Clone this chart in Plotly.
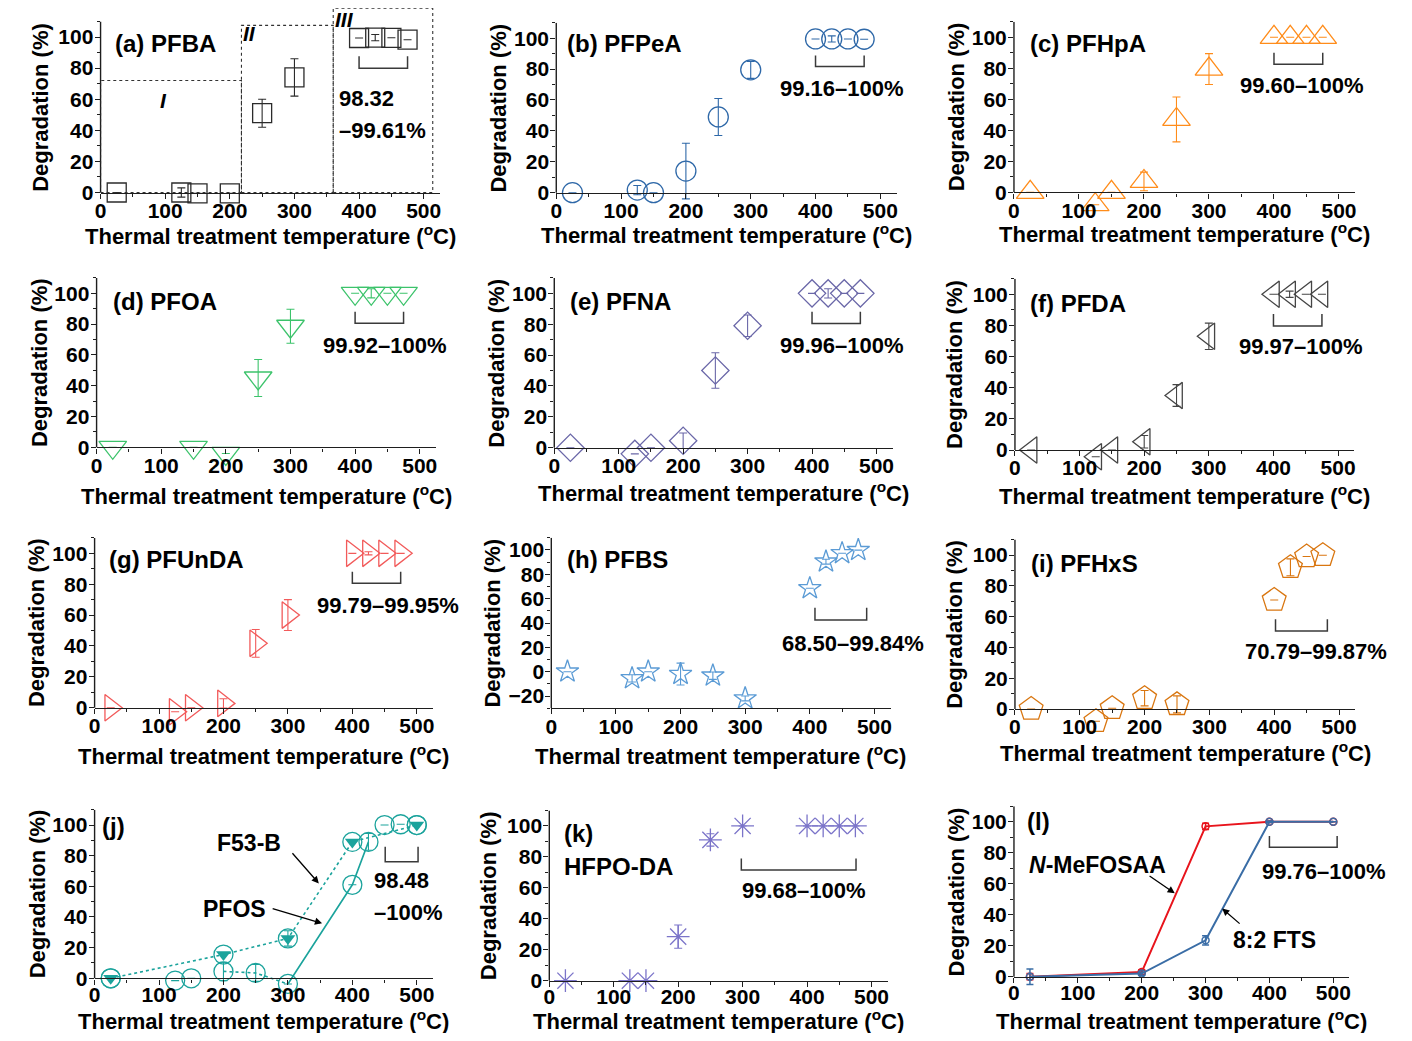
import plotly.graph_objects as go

REF_W, REF_H = 1412, 1041
OFF = 8  # page body margin
FIG_W, FIG_H = REF_W - 2 * OFF, REF_H - 2 * OFF
FONT = "Liberation Sans"
AXC = "#1e1e1e"

# ---------------- data ----------------
temps = [25, 125, 150, 200, 250, 300, 400, 425, 450, 475]

pfba = [0, 0, -0.5, -0.5, 51, 74, 99.4, 99.6, 99.5, 98.3]
pfba_err = [None, 3, None, None, 9, 12, None, 2, None, None]
pfpea = [0, 1.7, 0, 14, 49, 79.5, 99.5, 99.5, 99.5, 99.3]
pfpea_err = [None, 3, None, 18, 12, 5.5, None, 2, None, None]
pfhpa = [0, -8, 0, 7, 47, 79.5, 100, 100, 100, 100]
pfhpa_err = [None, None, None, 6, 14.5, 10, None, None, None, None]
pfoa = [0, None, 0, -4, 45, 78.6, 100, 100, 100, 100]
pfoa_err = [None, None, None, None, 12, 11, None, 3, None, None]
pfna = [0, -4, 0, 4.5, 50, 79, 100, 100, 100, 100]
pfna_err = [None, None, None, 5, 11.5, 7, None, 3, None, None]
pfda = [0, -4.3, 0, 5.3, 35, 73, 100, 100, 100, 100]
pfda_err = [None, None, None, 4, 7, 8.5, None, 2, None, None]
pfunda = [0, -2.6, 0, 2.8, 41.7, 60, 100, 100, 100, 100]
pfunda_err = [None, None, None, 3, 9, 10, None, 1, None, None]
pfbs = [0, -5.5, 0, -2, -3.3, -22, 68.5, 90.4, 97.3, 99.84]
pfbs_err = [None, 3, None, 9, 3, 2, None, 2, None, None]
pfhxs = [0, -8, 0.5, 7, 3, None, 70.79, 92, 99, 99.87]
pfhxs_err = [None, None, None, 5, 5.5, None, None, 5.5, None, None]
hfpo = [0, 0, 0, 28.5, 91, 100, 100, 100, 100, 100]
hfpo_err = [None, None, None, 7.5, 4, None, None, None, None, None]

pfos_t = [25, 125, 150, 200, 250, 300, 400, 425, 450, 475, 500]
pfos = [0, -1.5, 0, 4.5, 3.5, -3.7, 61, 89, 100, 100.5, 100]
pfos_err = [None, None, None, 6, 5.5, None, None, 5.5, None, None, None]
f53b_t = [25, 200, 300, 400, 500]
f53b = [0, 15.5, 26, 89, 100]
f53b_err = [None, None, 5, None, None]

l_t = [25, 200, 300, 400, 500]
mefosaa = [0, 3, 97, 100, 100]
mefosaa_err = [2, 1.5, 2, 0.5, None]
fts82 = [0, 2, 23.5, 100, 100]
fts82_err = [5, 1, 3, 0.5, None]

x_title = "Thermal treatment temperature (<sup>o</sup>C)"
y_title = "Degradation (%)"

# ------------- geometry in reference px: left, bottom(ymin), width, height, ymin, xtitle-off, ytitle-off
XMAX, YMAX = 525, 110
EXT = 14  # hidden extension of y range below the axis so markers below it stay visible
GEOM = {
    'a': (95, 192.5, 341, 171, 0, 43, 60),
    'b': (553, 192.7, 342, 170, 0, 41.5, 57.7),
    'c': (1013, 192.3, 343, 170.5, 0, 41, 58),
    'd': (91, 447.3, 341, 169.4, 0, 47.7, 57.4),
    'e': (551, 447.7, 340, 169.8, 0, 44, 57.7),
    'f': (1014, 450, 341, 171.3, 0, 45, 60.7),
    'g': (89, 707.7, 340, 169.8, 0, 47.3, 57.6),
    'h': (548, 708.2, 341, 170.4, -30, 46.8, 60),
    'i': (1014, 709, 342, 169.4, 0, 42.7, 60.7),
    'j': (89, 978.3, 340, 168.6, 0, 41.5, 57.6),
    'k': (546, 980.7, 340, 170.2, 0, 39.2, 61),
    'l': (1013, 976.7, 337, 170.5, 0, 43.3, 58.3),
}
KEYS = list(GEOM.keys())
BOTTOM_ROW = {'j', 'k', 'l'}


def xr(k):
    n = KEYS.index(k) + 1
    return 'x' if n == 1 else f'x{n}'


def yr(k):
    n = KEYS.index(k) + 1
    return 'y' if n == 1 else f'y{n}'


def pxp(px):
    return (px - OFF) / FIG_W


def pyp(py):
    return 1 - (py - OFF) / FIG_H


def paper_y_of(k, v):
    L, B, Wd, Ht, ymin = GEOM[k][:5]
    return pyp(B - (v - ymin) / (YMAX - ymin) * Ht)


fig = go.Figure()

C = dict(a='#2b2b2b', b='#2e68a8', c='#ff8c1a', d='#3cc36b', e='#6a67a8', f='#454545',
         g='#f25a5a', h='#5b9bd5', i='#d97610', j='#1ba39c', k='#7b74c9',
         lred='#e8141c', lblue='#3a6da6')

SERIES = [
    ('a', temps, pfba, pfba_err, 'square-open', 19),
    ('b', temps, pfpea, pfpea_err, 'circle-open', 20),
    ('c', temps, pfhpa, pfhpa_err, 'triangle-up-open', 24),
    ('d', temps, pfoa, pfoa_err, 'triangle-down-open', 24),
    ('e', temps, pfna, pfna_err, 'diamond-open', 21),
    ('f', temps, pfda, pfda_err, 'triangle-left-open', 23),
    ('g', temps, pfunda, pfunda_err, 'triangle-right-open', 23),
    ('h', temps, pfbs, pfbs_err, 'star-open', 17),
    ('i', temps, pfhxs, pfhxs_err, 'pentagon-open', 25),
    ('k', temps, hfpo, hfpo_err, 'asterisk-open', 19),
]


def add_markers(k, x, y, err, symbol, size, color, lw=1.3):
    fig.add_trace(go.Scatter(
        x=x, y=y, mode='markers', xaxis=xr(k), yaxis=yr(k), showlegend=False,
        cliponaxis=False,
        marker=dict(symbol=symbol, size=size, color=color, line=dict(width=lw, color=color)),
        error_y=dict(type='data', array=err, visible=True, color=color, thickness=1.1, width=4),
    ))


for k, x, y, err, sym, size in SERIES:
    add_markers(k, x, y, err, sym, size, C[k])

# (j) PFOS / F53-B
jc = C['j']
fig.add_trace(go.Scatter(x=f53b_t, y=f53b, mode='lines', xaxis=xr('j'), yaxis=yr('j'),
                         showlegend=False, line=dict(color=jc, width=1.6, dash='dot')))
fig.add_trace(go.Scatter(x=pfos_t[3:6], y=pfos[3:6], mode='lines', xaxis=xr('j'), yaxis=yr('j'),
                         showlegend=False, line=dict(color=jc, width=1.6, dash='dot')))
fig.add_trace(go.Scatter(x=pfos_t[5:8], y=pfos[5:8], mode='lines', xaxis=xr('j'), yaxis=yr('j'),
                         showlegend=False, line=dict(color=jc, width=1.6)))
add_markers('j', pfos_t, pfos, pfos_err, 'circle-open', 19, jc)
add_markers('j', f53b_t, f53b, f53b_err, 'circle-open', 19, jc)
fig.add_trace(go.Scatter(x=f53b_t, y=f53b, mode='markers', xaxis=xr('j'), yaxis=yr('j'),
                         showlegend=False, cliponaxis=False,
                         marker=dict(symbol='triangle-down', size=13, color=jc, line=dict(width=0))))

# (l) N-MeFOSAA / 8:2 FTS
for yv, ev, col in [(mefosaa, mefosaa_err, C['lred']), (fts82, fts82_err, C['lblue'])]:
    fig.add_trace(go.Scatter(
        x=l_t, y=yv, mode='lines+markers', xaxis=xr('l'), yaxis=yr('l'), showlegend=False,
        cliponaxis=False, line=dict(color=col, width=2),
        marker=dict(symbol='circle-open', size=7, color=col, line=dict(width=1.5, color=col)),
        error_y=dict(type='data', array=ev, visible=True, color=col, thickness=1.5, width=3.5),
    ))

# ---------------- axes ----------------
tickfont = dict(family=FONT, size=21, color='black', weight='bold')
shapes = []
for n, k in enumerate(KEYS, 1):
    L, B, Wd, Ht, ymin, xoff, yoff = GEOM[k]
    sy = Ht / (YMAX - ymin)
    ext = EXT if ymin == 0 else 0
    xname = 'xaxis' if n == 1 else f'xaxis{n}'
    yname = 'yaxis' if n == 1 else f'yaxis{n}'
    fig.layout[xname] = dict(
        domain=[pxp(L), pxp(L + Wd)], range=[0, XMAX], anchor='free', position=pyp(B),
        showline=True, linecolor=AXC, linewidth=1.4, ticks='outside', ticklen=5,
        tickwidth=1.3, tickcolor=AXC, tickmode='linear', tick0=0, dtick=100,
        tickfont=tickfont, showgrid=False, zeroline=False,
        ticklabelstandoff=-8 if k in BOTTOM_ROW else -6,
        minor=dict(ticks='outside', ticklen=3, tickwidth=1.1, tickcolor=AXC, dtick=50, tick0=0, showgrid=False),
    )
    majors = [v for v in range(-100, 101, 20) if v >= ymin]
    minors = [v for v in range(-110, 111, 20) if v >= ymin]
    fig.layout[yname] = dict(
        domain=[pyp(B + ext * sy), pyp(B - Ht)], range=[ymin - ext, YMAX], anchor=xr(k),
        showline=False, ticks='outside', ticklen=5,
        tickwidth=1.3, tickcolor=AXC, tickmode='array', tickvals=majors,
        tickfont=tickfont, showgrid=False, zeroline=False, ticklabelstandoff=-3,
        minor=dict(ticks='outside', ticklen=3, tickwidth=1.1, tickcolor=AXC, tickmode='array',
                   tickvals=minors, showgrid=False),
    )
    shapes.append(dict(type='line', xref=f'{xr(k)} domain', yref=yr(k), x0=0, x1=0, y0=ymin, y1=YMAX,
                       line=dict(color=AXC, width=1.4)))

# ---------------- annotations ----------------
anns = []


def text_ann(k, x, y, text, size=22, xanchor='center'):
    anns.append(dict(xref=xr(k), yref=yr(k), x=x, y=y, text=text, showarrow=False,
                     xanchor=xanchor, yanchor='middle',
                     font=dict(family=FONT, size=size, color='black', weight='bold')))


def arrow(k, hx, hy, tx, ty):
    anns.append(dict(xref=xr(k), yref=yr(k), x=hx, y=hy, ax=tx, ay=ty,
                     axref=xr(k), ayref=yr(k), text='', showarrow=True,
                     arrowhead=2, arrowsize=1.1, arrowwidth=1.3, arrowcolor='black'))


def bracket(k, x1, x2, yb, yt):
    shapes.append(dict(type='path', xref=xr(k), yref=yr(k),
                       path=f"M {x1},{yt} L {x1},{yb} L {x2},{yb} L {x2},{yt}",
                       line=dict(color='#3a3a3a', width=1.5)))


for k in KEYS:
    L, B, Wd, Ht, ymin, xoff, yoff = GEOM[k]
    anns.append(dict(xref='paper', yref='paper', x=pxp(L + Wd / 2), y=pyp(B + xoff),
                     text=x_title, showarrow=False, xanchor='center', yanchor='middle',
                     font=dict(family=FONT, size=22, color='black', weight='bold')))
    anns.append(dict(xref='paper', yref='paper', x=pxp(L - yoff), y=pyp(B - Ht / 2),
                     text=y_title, showarrow=False, textangle=-90, xanchor='center', yanchor='middle',
                     font=dict(family=FONT, size=22, color='black', weight='bold')))

LABELS = [
    ('a', '(a) PFBA', 19, 96), ('b', '(b) PFPeA', 14, 96.7), ('c', '(c) PFHpA', 21, 96),
    ('d', '(d) PFOA', 22, 94.5), ('e', '(e) PFNA', 21.6, 94.6), ('f', '(f) PFDA', 20.5, 94.2),
    ('g', '(g) PFUnDA', 19, 95.7), ('h', '(h) PFBS', 20.6, 91.8), ('i', '(i) PFHxS', 22, 94.6),
    ('j', '(j)', 9, 99), ('k', '(k)', 19, 95.3), ('k', 'HFPO-DA', 19, 73.7), ('l', '(l)', 18, 100),
]
for k, t, x, y in LABELS:
    text_ann(k, x, y, t, size=24, xanchor='left')

RANGES = [
    ('b', '99.16–100%', 441, 67.6), ('c', '99.60–100%', 443.6, 69), ('d', '99.92–100%', 446, 66.4),
    ('e', '99.96–100%', 446, 65.9), ('f', '99.97–100%', 443, 66.3), ('g', '99.79–99.95%', 456, 66.5),
    ('h', '68.50–99.84%', 466.8, 23.3), ('i', '70.79–99.87%', 464, 37.2), ('k', '99.68–100%', 394.6, 58.6),
    ('l', '99.76–100%', 485, 67.7),
]
for k, t, x, y in RANGES:
    text_ann(k, x, y, t, size=22)
text_ann('a', 366, 60.6, '98.32', xanchor='left')
text_ann('a', 366, 40, '–99.61%', xanchor='left')
text_ann('j', 430, 63.7, '98.48', xanchor='left')
text_ann('j', 430, 42.8, '–100%', xanchor='left')

BRACKETS = [
    ('a', 400, 475, 80, 87.6), ('b', 400, 475, 81.6, 88.7), ('c', 400, 475, 82.6, 90),
    ('d', 400, 475, 80.5, 88), ('e', 400, 475, 80.5, 88), ('f', 400, 475, 79.6, 87.3),
    ('g', 400, 475, 80.6, 88), ('h', 408, 488, 42.5, 52.6), ('i', 402, 482, 50.6, 58.2),
    ('j', 451, 502, 76, 85.8), ('k', 298, 476, 71.6, 79), ('l', 400, 506, 83.5, 90.8),
]
for b in BRACKETS:
    bracket(*b)

REGIONS = [(0, 218, 72, 'I', 98, 59), (218, 360, 107.5, 'II', 231, 102), (360, 514, 118.5, 'III', 378, 111.5)]
for x0, x1, top, lab, lx, ly in REGIONS:
    shapes.append(dict(type='rect', xref=xr('a'), yref='paper', x0=x0, x1=x1,
                       y0=paper_y_of('a', 0), y1=paper_y_of('a', top),
                       line=dict(color='#333333', width=1.1, dash='dot')))
    anns.append(dict(xref=xr('a'), yref='paper', x=lx, y=paper_y_of('a', ly), text=f'<i>{lab}</i>',
                     showarrow=False, xanchor='center', yanchor='middle',
                     font=dict(family=FONT, size=21, color='black', weight='bold')))

text_ann('j', 240, 88, 'F53-B', size=23)
text_ann('j', 217, 45, 'PFOS', size=23)
arrow('j', 348, 61.9, 305, 82.6)
arrow('j', 353, 35.9, 274, 45.7)

text_ann('l', 19.8, 72, '<i>N</i>-MeFOSAA', size=23, xanchor='left')
text_ann('l', 407.6, 23.7, '8:2 FTS', size=23)
arrow('l', 251.8, 53.8, 210, 65.6)
arrow('l', 326, 44, 355.7, 33.4)

fig.update_layout(
    width=FIG_W, height=FIG_H, margin=dict(l=0, r=0, t=0, b=0),
    paper_bgcolor='white', plot_bgcolor='rgba(0,0,0,0)',
    annotations=anns, shapes=shapes, showlegend=False,
    font=dict(family=FONT, color='black'),
)

fig.write_html("out.html")
